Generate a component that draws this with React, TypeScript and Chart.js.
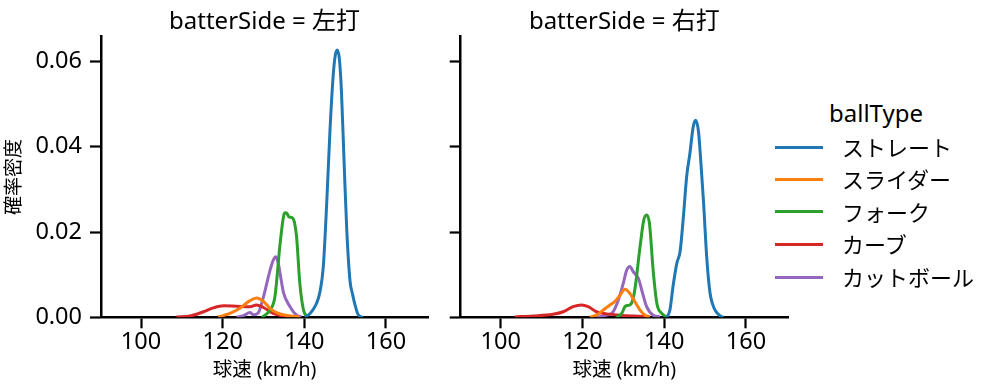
import React, { useEffect, useRef } from "react";
import { Chart, registerables } from "chart.js";

Chart.register(...registerables);

type Pt = [number, number];

const BALL_TYPES = ["ストレート", "スライダー", "フォーク", "カーブ", "カットボール"];
const COLORS = ["#1f77b4", "#ff7f0e", "#2ca02c", "#d62728", "#9467bd"];
const PANEL_TITLES = ["batterSide = 左打", "batterSide = 右打"];
const X_TICKS = [100, 120, 140, 160];
const Y_TICKS = [0, 0.02, 0.04, 0.06];
const X_LABEL = "球速 (km/h)";
const Y_LABEL = "確率密度";
const LEGEND_TITLE = "ballType";

// 左打
const L_STRAIGHT: Pt[] = [
  [140.2, 0], [141.4, 0.0009], [142.4, 0.0022], [143, 0.0033], [143.8, 0.0058], [144.65, 0.0118],
  [145.5, 0.027], [146.3, 0.044], [147.1, 0.057], [147.6, 0.0615], [148.1, 0.0627], [148.6, 0.0605],
  [149.1, 0.053], [149.8, 0.035], [150.4, 0.0205], [151.2, 0.0085], [151.8, 0.0055], [152.4, 0.003],
  [153.2, 0.0006], [154.4, 0],
];
const L_SLIDER: Pt[] = [
  [118.9, 0.0001], [121.8, 0.0009], [124.2, 0.0021], [126.7, 0.0039], [128.3, 0.0045], [130, 0.0037],
  [131.6, 0.0021], [133.2, 0.0011], [135.7, 0.0004], [138.9, 0.0001],
];
const L_FORK: Pt[] = [
  [129.6, 0], [131.6, 0.0017], [132.8, 0.0048], [134, 0.0166], [134.9, 0.0236], [135.3, 0.0245],
  [135.7, 0.0244], [136.2, 0.0236], [137.2, 0.0232], [137.6, 0.0222], [138.1, 0.019], [138.9, 0.008],
  [139.8, 0.0017], [140.6, 0.0002],
];
const L_CURVE: Pt[] = [
  [108.7, 0.0001], [112, 0.0003], [115.3, 0.0013], [117.7, 0.0022], [120.2, 0.0027], [123.4, 0.0026],
  [126.7, 0.0025], [128.3, 0.0029], [130, 0.0023], [132.4, 0.0009], [134.9, 0.0003], [136.5, 0.0001],
];
const L_CUTTER: Pt[] = [
  [123.4, 0], [125.1, 0.0004], [126.7, 0.0011], [127.5, 0.0006], [128.7, 0.001], [130, 0.0048],
  [131.6, 0.011], [132.4, 0.0134], [133, 0.0142], [133.6, 0.0128], [134.2, 0.0095], [134.9, 0.0058],
  [136.5, 0.0025], [138.1, 0.0005], [139.3, 0.0001],
];

// 右打
const R_STRAIGHT: Pt[] = [
  [140.6, 0], [141.4, 0.0017], [142.2, 0.0075], [143.1, 0.0127], [143.9, 0.0155], [144.7, 0.0236],
  [145.5, 0.033], [146.3, 0.0385], [147.1, 0.0447], [147.7, 0.0462], [148.4, 0.0435], [149, 0.036],
  [149.6, 0.0275], [150.4, 0.0142], [151.2, 0.0058], [151.8, 0.0032], [152.5, 0.0016], [153.7, 0.0003],
  [154.5, 0],
];
const R_SLIDER: Pt[] = [
  [121.8, 0], [123.4, 0.0005], [125.1, 0.0017], [126.7, 0.0029], [127.9, 0.0037], [129.2, 0.0052],
  [130.4, 0.0066], [131.6, 0.0056], [132.8, 0.0037], [134.1, 0.0017], [135.3, 0.0005], [136.5, 0.0001],
];
const R_FORK: Pt[] = [
  [128.3, 0], [129.6, 0.0009], [130.4, 0.0025], [131.2, 0.0028], [132, 0.0033], [132.8, 0.0064],
  [134.1, 0.0166], [135, 0.0228], [135.7, 0.024], [136.4, 0.022], [137.3, 0.011], [138.2, 0.0033],
  [139.4, 0.0009], [140.6, 0.0001],
];
const R_CURVE: Pt[] = [
  [103.4, 0.0001], [107.9, 0.0003], [112.8, 0.0007], [115.3, 0.0013], [117.7, 0.0025], [119.8, 0.0029],
  [121.4, 0.0025], [123.4, 0.0013], [125.9, 0.0008], [129.2, 0.0005], [132.4, 0.0003], [136.5, 0.0001],
];
const R_CUTTER: Pt[] = [
  [123.4, 0], [125.9, 0.0005], [127.5, 0.0013], [128.8, 0.0041], [130, 0.008], [130.8, 0.011],
  [131.6, 0.0119], [132.4, 0.0107], [133.7, 0.0091], [134.5, 0.0064], [135.7, 0.0025], [137.3, 0.0005],
  [139, 0.0001],
];

const PANELS: Pt[][][] = [
  [L_STRAIGHT, L_SLIDER, L_FORK, L_CURVE, L_CUTTER],
  [R_STRAIGHT, R_SLIDER, R_FORK, R_CURVE, R_CUTTER],
];

const X_MIN = 90.2;
const X_MAX = 170.3;
const Y_MIN = 0;
const Y_MAX = 0.0658;

const FONT = "'Noto Sans', 'Noto Sans CJK JP', sans-serif";

function Panel({ index }: { index: number }) {
  const ref = useRef<HTMLCanvasElement | null>(null);
  const isLeft = index === 0;
  const canvasLeft = isLeft ? 0 : 440;
  const canvasWidth = isLeft ? 440 : 360;
  const yAxisWidth = isLeft ? 101 : 20.7;

  useEffect(() => {
    if (!ref.current) return;
    const chart = new Chart(ref.current, {
      type: "line",
      data: {
        datasets: PANELS[index].map((pts, i) => ({
          label: BALL_TYPES[i],
          data: pts.map(([x, y]) => ({ x, y })),
          borderColor: COLORS[i],
          backgroundColor: COLORS[i],
          borderWidth: 3,
          pointRadius: 0,
          fill: false,
          cubicInterpolationMode: "monotone" as const,
        })),
      },
      options: {
        animation: false,
        responsive: false,
        maintainAspectRatio: false,
        layout: { padding: { top: 36.7, right: 12, left: 0, bottom: 0 } },
        plugins: { legend: { display: false }, tooltip: { enabled: false }, title: { display: false } },
        scales: {
          x: {
            type: "linear",
            min: X_MIN,
            max: X_MAX,
            afterBuildTicks: (s: any) => {
              s.ticks = X_TICKS.map((v) => ({ value: v }));
            },
            afterFit: (s: any) => {
              s.height = 391 - 317.3;
            },
            grid: { drawOnChartArea: false, drawTicks: true, tickLength: 11, tickWidth: 2.2, tickColor: "#000" },
            border: { color: "#000", width: 2.5 },
            ticks: {
              color: "#000",
              font: { family: FONT, size: 23.5 },
              padding: 0,
              maxRotation: 0,
              callback: (v: any) => String(v),
            },
            title: {
              display: true,
              text: X_LABEL,
              color: "#000",
              font: { family: FONT, size: 19.5 },
              padding: { top: 0, bottom: 9 },
            },
          },
          y: {
            type: "linear",
            min: Y_MIN,
            max: Y_MAX,
            afterBuildTicks: (s: any) => {
              s.ticks = Y_TICKS.map((v) => ({ value: v }));
            },
            afterFit: (s: any) => {
              s.width = yAxisWidth;
            },
            grid: { drawOnChartArea: false, drawTicks: true, tickLength: 11, tickWidth: 2.2, tickColor: "#000" },
            border: { color: "#000", width: 2.5 },
            ticks: {
              display: isLeft,
              color: "#000",
              font: { family: FONT, size: 23.5 },
              padding: 8,
              callback: (v: any) => Number(v).toFixed(2),
            },
            title: {
              display: isLeft,
              text: Y_LABEL,
              color: "#000",
              font: { family: FONT, size: 19 },
              padding: { top: 3, bottom: 0 },
            },
          },
        },
      },
    });
    return () => chart.destroy();
  }, [index]);

  const plotLeft = canvasLeft + yAxisWidth;
  const plotRight = canvasLeft + canvasWidth - 12;
  return (
    <>
      <canvas
        ref={ref}
        width={canvasWidth}
        height={391}
        style={{ position: "absolute", left: canvasLeft, top: 0, width: canvasWidth, height: 391 }}
      />
      <div
        style={{
          position: "absolute",
          left: plotLeft,
          width: plotRight - plotLeft,
          top: 4,
          textAlign: "center",
          fontFamily: FONT,
          fontSize: 24,
          lineHeight: "32px",
          color: "#000",
          whiteSpace: "nowrap",
        }}
      >
        {PANEL_TITLES[index]}
      </div>
    </>
  );
}

function Legend() {
  const rowYs = [147.3, 179.3, 211.8, 244, 277.3];
  return (
    <>
      <div
        style={{
          position: "absolute",
          left: 800,
          width: 152,
          top: 97,
          textAlign: "center",
          fontFamily: FONT,
          fontSize: 24,
          lineHeight: "32px",
          color: "#000",
        }}
      >
        {LEGEND_TITLE}
      </div>
      {BALL_TYPES.map((name, i) => (
        <React.Fragment key={name}>
          <div
            style={{
              position: "absolute",
              left: 775,
              top: rowYs[i] - 1.5,
              width: 48,
              height: 3,
              background: COLORS[i],
            }}
          />
          <div
            style={{
              position: "absolute",
              left: 842,
              top: rowYs[i] - 15,
              fontFamily: FONT,
              fontSize: 22,
              lineHeight: "30px",
              color: "#000",
              whiteSpace: "nowrap",
            }}
          >
            {name}
          </div>
        </React.Fragment>
      ))}
    </>
  );
}

export default function App() {
  return (
    <div
      style={{
        position: "absolute",
        left: 0,
        top: 0,
        width: 997,
        height: 391,
        background: "#fff",
        overflow: "hidden",
      }}
    >
      <Panel index={0} />
      <Panel index={1} />
      <Legend />
    </div>
  );
}
